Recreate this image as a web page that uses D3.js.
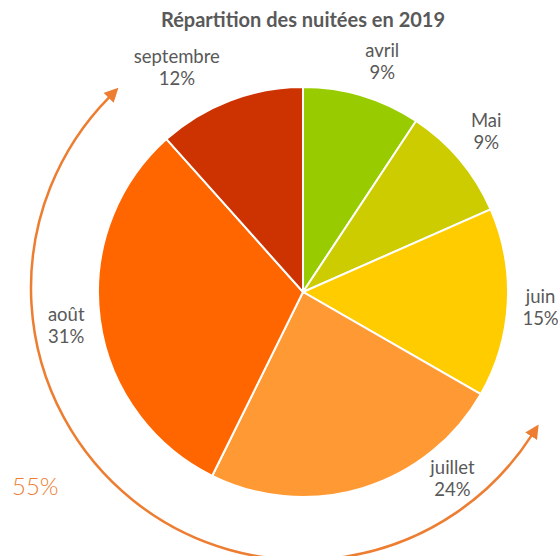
<!DOCTYPE html>
<meta charset="utf-8">
<style>
    body { margin: 0; background: #fff; }
    text { font-family: Lato, "Open Sans", sans-serif; fill: #595959; }
    .title { font-size: 20px; font-weight: bold; }
    .lbl { font-size: 18.5px; }
    .total { font-size: 24px; font-weight: 300; fill: #ED7D31; }
</style>
<svg width="558" height="556"></svg>
<script src="https://cdn.jsdelivr.net/npm/d3@7"></script>
<script>
    // données (parts, affichées arrondies)
    var mois = ["avril", "Mai", "juin", "juillet", "août", "septembre"];
    var parts = [9.3, 9.1, 14.9, 24.0, 31.1, 11.6];
    var couleurs = ["#99CC00", "#CCCC00", "#FFCC00", "#FF9933", "#FF6600", "#CC3300"];
    var cumul = "55%";
    // réglages de placement des étiquettes (degrés / pixels)
    var decalage = [2.2, -1.2, 0.5, -21.8, -0.1, -8.4];
    var ecart = [244, 244, 238, 239, 239, 258];

    var svg = d3.select("svg"),
        cx = 303, cy = 292,
        rayon = 205;

    svg.append("text")
        .attr("class", "title")
        .attr("x", cx)
        .attr("y", 27)
        .attr("text-anchor", "middle")
        .text("Répartition des nuitées en 2019");

    var g = svg.append("g").attr("transform", "translate(" + cx + "," + cy + ")");

    var pie = d3.pie().sort(null).value(function (d) { return d; });
    var arcs = pie(parts);

    var arc = d3.arc().innerRadius(0).outerRadius(rayon);

    g.selectAll("path.slice")
        .data(arcs)
        .enter().append("path")
        .attr("class", "slice")
        .attr("d", arc)
        .attr("fill", function (d, i) { return couleurs[i]; })
        .attr("stroke", "#fff")
        .attr("stroke-width", 2);

    // étiquettes
    var lbl = g.selectAll("g.lbl")
        .data(arcs)
        .enter().append("g")
        .attr("transform", function (d, i) {
            var a = (d.startAngle + d.endAngle) / 2 + decalage[i] * Math.PI / 180;
            return "translate(" + (Math.sin(a) * ecart[i]) + "," + (-Math.cos(a) * ecart[i]) + ")";
        });
    lbl.append("text")
        .attr("class", "lbl")
        .attr("text-anchor", "middle")
        .attr("y", -4)
        .text(function (d, i) { return mois[i]; });
    lbl.append("text")
        .attr("class", "lbl")
        .attr("text-anchor", "middle")
        .attr("y", 18)
        .text(function (d) { return Math.round(d.value) + "%"; });

    // flèche courbe (juillet + août)
    var defs = svg.append("defs");
    defs.append("marker")
        .attr("id", "tete")
        .attr("viewBox", "0 -7 14 14")
        .attr("refX", 1)
        .attr("refY", 0)
        .attr("markerWidth", 14)
        .attr("markerHeight", 14)
        .attr("markerUnits", "userSpaceOnUse")
        .attr("orient", "auto-start-reverse")
        .append("path")
        .attr("d", "M0,-7L14,0L0,7Z")
        .attr("fill", "#ED7D31");

    var fx = 303, fy = 288, rFleche = 272;
    var a0 = 122.8 * Math.PI / 180, a1 = 314.6 * Math.PI / 180;
    var p = d3.path();
    p.arc(fx, fy, rFleche, a0 - Math.PI / 2, a1 - Math.PI / 2);
    svg.append("path")
        .attr("d", p.toString())
        .attr("fill", "none")
        .attr("stroke", "#ED7D31")
        .attr("stroke-width", 2.5)
        .attr("marker-start", "url(#tete)")
        .attr("marker-end", "url(#tete)");

    svg.append("text")
        .attr("class", "total")
        .attr("x", 12)
        .attr("y", 495)
        .text(cumul);
</script>
